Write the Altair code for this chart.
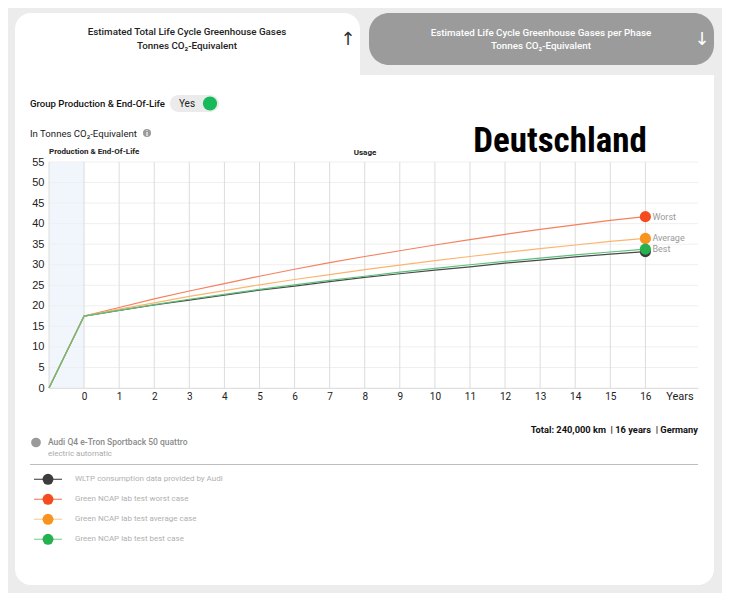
import altair as alt
import pandas as pd

# ---------------- data ----------------
years = list(range(-1, 17))
wltp = [0, 17.5, 18.9, 20.2, 21.4, 22.6, 23.8, 24.8, 25.9, 26.9, 27.8, 28.7, 29.5, 30.4, 31.1, 31.9, 32.6, 33.2]
worst = [0, 17.5, 19.6, 21.7, 23.6, 25.4, 27.2, 28.9, 30.5, 32.0, 33.4, 34.8, 36.1, 37.4, 38.6, 39.7, 40.8, 41.7]
average = [0, 17.5, 19.2, 20.7, 22.3, 23.7, 25.1, 26.4, 27.6, 28.8, 29.9, 31.0, 32.0, 33.0, 33.9, 34.8, 35.7, 36.4]
best = [0, 17.5, 18.9, 20.3, 21.6, 22.8, 24.0, 25.1, 26.2, 27.2, 28.2, 29.1, 30.0, 30.8, 31.6, 32.4, 33.1, 33.8]

series = ["WLTP", "Worst", "Average", "Best"]
series_values = [wltp, worst, average, best]
end_labels = ["", "Worst", "Average", "Best"]
marker_colors = ["#3c3c3c", "#f44b1f", "#f7931e", "#27b04e"]
line_colors = ["#4a4a4a", "#f4805f", "#fbb56e", "#5cc07a"]
legend_line_colors = ["#555555", "#f08b70", "#fcd1a0", "#7fd89a"]
legend_labels = [
    "WLTP consumption data provided by Audi",
    "Green NCAP lab test worst case",
    "Green NCAP lab test average case",
    "Green NCAP lab test best case",
]
x_grid = list(range(-1, 17))
x_ticks = list(range(0, 17))
y_ticks = list(range(0, 56, 5))

rows = []
for s, vals in zip(series, series_values):
    for yr, v in zip(years, vals):
        rows.append({"series": s, "year": yr, "value": v})
df = pd.DataFrame(rows)
end_df = pd.DataFrame({
    "series": series,
    "year": [years[-1]] * len(series),
    "value": [v[-1] for v in series_values],
    "label": end_labels,
})

# ---------------- geometry ----------------
W, H = 649, 226
OX, OY = 49, 162  # page position of plot origin
one = alt.Data(values=[{"a": 1}])
NB = "\u00a0"


def px(x):
    return x - OX


def py(y):
    return y - OY


def text(x, y, s, size=9.5, color="#222222", weight="normal", align="left",
         font="Roboto", baseline="middle"):
    return alt.Chart(one).mark_text(
        text=s, fontSize=size, color=color, fontWeight=weight, align=align,
        font=font, baseline=baseline
    ).encode(x=alt.value(px(x)), y=alt.value(py(y)))


def rect(x1, y1, x2, y2, color, **kw):
    return alt.Chart(one).mark_rect(color=color, **kw).encode(
        x=alt.value(px(x1)), x2=alt.value(px(x2)),
        y=alt.value(py(y1)), y2=alt.value(py(y2)))


def dot(x, y, size, color):
    return alt.Chart(one).mark_circle(size=size, color=color, opacity=1).encode(
        x=alt.value(px(x)), y=alt.value(py(y)))


def hline(x1, x2, y, color, width=1.0):
    return alt.Chart(one).mark_rule(color=color, strokeWidth=width).encode(
        x=alt.value(px(x1)), x2=alt.value(px(x2)), y=alt.value(py(y)))


xscale = alt.Scale(domain=[-1, 17.5], nice=False, zero=False)
yscale = alt.Scale(domain=[0, 55], nice=False)
xaxis = alt.Axis(values=x_ticks, grid=False, ticks=False, domain=True,
                 domainColor="#e0e0e0", labelFont="Roboto", labelFontSize=10,
                 labelColor="#222222", labelPadding=3, title=None, zindex=1)
yaxis = alt.Axis(values=y_ticks, grid=False, ticks=False, domain=False,
                 labelFont="Liberation Sans", labelFontSize=11, labelColor="#222222",
                 labelPadding=5, title=None, zindex=1)
X = alt.X("x:Q", scale=xscale, axis=xaxis)
Y = alt.Y("y:Q", scale=yscale, axis=yaxis)

layers = []

# ---------- UI background ----------
layers.append(rect(15, 13, 360, 95, "#ffffff", cornerRadiusTopLeft=16, cornerRadiusTopRight=16))
layers.append(rect(369, 13, 714, 65, "#9b9b9b", cornerRadius=20))
layers.append(rect(15, 75, 714, 585, "#ffffff", cornerRadiusBottomLeft=16, cornerRadiusBottomRight=16))

# tabs text
layers.append(text(187, 32, "Estimated Total Life Cycle Greenhouse Gases", size=9.8, weight=500, align="center"))
layers.append(text(187, 46, "Tonnes CO₂-Equivalent", size=9.8, weight=500, align="center"))
layers.append(text(348, 40, "↑", size=18, color="#333333", align="center", font="DejaVu Sans"))
layers.append(text(541, 33, "Estimated Life Cycle Greenhouse Gases per Phase", size=9.8, color="#ffffff", weight=500, align="center"))
layers.append(text(541, 46, "Tonnes CO₂-Equivalent", size=9.8, color="#ffffff", weight=500, align="center"))
layers.append(text(702, 40, "↓", size=18, color="#ffffff", align="center", font="DejaVu Sans"))

# toggle
layers.append(text(30, 103.5, "Group Production & End-Of-Life", size=9.6, weight=500, color="#111111"))
layers.append(rect(170, 95, 219, 112, "#ebebeb", cornerRadius=8.5))
layers.append(text(187, 103.5, "Yes", size=10, color="#222222", align="center"))
layers.append(dot(210, 103.5, 201, "#17b95b"))

# chart header
layers.append(text(30, 133.5, "In Tonnes CO₂-Equivalent", size=9.6, color="#222222"))
layers.append(dot(147, 133, 64, "#9a9a9a"))
layers.append(text(147, 133.5, "i", size=7, color="#ffffff", weight="bold", align="center"))
layers.append(text(560, 151.5, "Deutschland", size=35, color="#000000", weight="bold",
                   font="Roboto Condensed, Noto Sans Condensed, Open Sans Condensed, DejaVu Sans Condensed",
                   align="center", baseline="alphabetic"))
layers.append(text(49, 152, "Production & End-Of-Life", size=8, weight="bold", color="#222222"))
layers.append(text(365, 153, "Usage", size=8, weight="bold", color="#222222", align="center"))

# ---------- plot content ----------
prod_df = pd.DataFrame({"x": [years[0]], "x2": [years[1]]})
layers.append(alt.Chart(prod_df).mark_rect(color="#f0f6fc").encode(
    x=X, x2="x2:Q", y=alt.value(0), y2=alt.value(H)))

ygrid_df = pd.DataFrame({"y": y_ticks})
layers.append(alt.Chart(ygrid_df).mark_rule(color="#efefef", strokeWidth=1).encode(
    y=Y, x=alt.value(0), x2=alt.value(W)))
xgrid_df = pd.DataFrame({"x": x_grid})
layers.append(alt.Chart(xgrid_df).mark_rule(color="#dcdcdc", strokeWidth=1).encode(
    x=X, y=alt.value(0), y2=alt.value(H)))

for s, lc in zip(series, line_colors):
    sub = df[df.series == s].rename(columns={"year": "x", "value": "y"})
    layers.append(alt.Chart(sub).mark_line(color=lc, strokeWidth=1.2).encode(x=X, y=Y))

pts = end_df.rename(columns={"year": "x", "value": "y"})
layers.append(alt.Chart(pts).mark_circle(size=125, opacity=1).encode(
    x=X, y=Y,
    color=alt.Color("series:N", scale=alt.Scale(domain=series, range=marker_colors), legend=None),
    order=alt.Order("idx:Q")).transform_window(idx="row_number()"))
layers.append(alt.Chart(pts[pts.label != ""]).mark_text(
    align="left", dx=7, fontSize=9, color="#9a9a9a", font="Roboto").encode(
    x=X, y=Y, text="label:N"))

layers.append(text(680, 397, "Years", size=11, color="#222222", align="center"))

# ---------- legend / footer ----------
total_txt = "Total: 240,000 km" + NB * 2 + "|" + NB + "16 years" + NB * 2 + "|" + NB + "Germany"
layers.append(text(698, 430, total_txt, size=9.3, weight="bold", color="#111111", align="right"))
layers.append(dot(36, 442.5, 95, "#9a9a9a"))
layers.append(text(48, 442, "Audi Q4 e-Tron Sportback 50 quattro", size=8.5, weight=500, color="#8a8a8a"))
layers.append(text(48, 453.5, "electric automatic", size=8, color="#aaaaaa"))
layers.append(hline(30, 698, 464.5, "#bdbdbd"))

legend_y = [479.3, 499.3, 519.3, 539.3]
for ly, lab, llc, mc in zip(legend_y, legend_labels, legend_line_colors, marker_colors):
    layers.append(hline(34, 62, ly, llc, 1.2))
    layers.append(dot(48, ly, 120, mc))
    layers.append(text(75, ly, lab, size=8, color="#b0b0b0"))

chart = alt.layer(*layers).properties(
    width=W, height=H,
    padding={"left": 41, "top": 154, "right": 24, "bottom": 205},
    autosize=alt.AutoSizeParams(type="none"),
).configure(background="#ececec").configure_view(stroke=None)

chart.save("out.html", embed_options={"renderer": "svg", "actions": False})
